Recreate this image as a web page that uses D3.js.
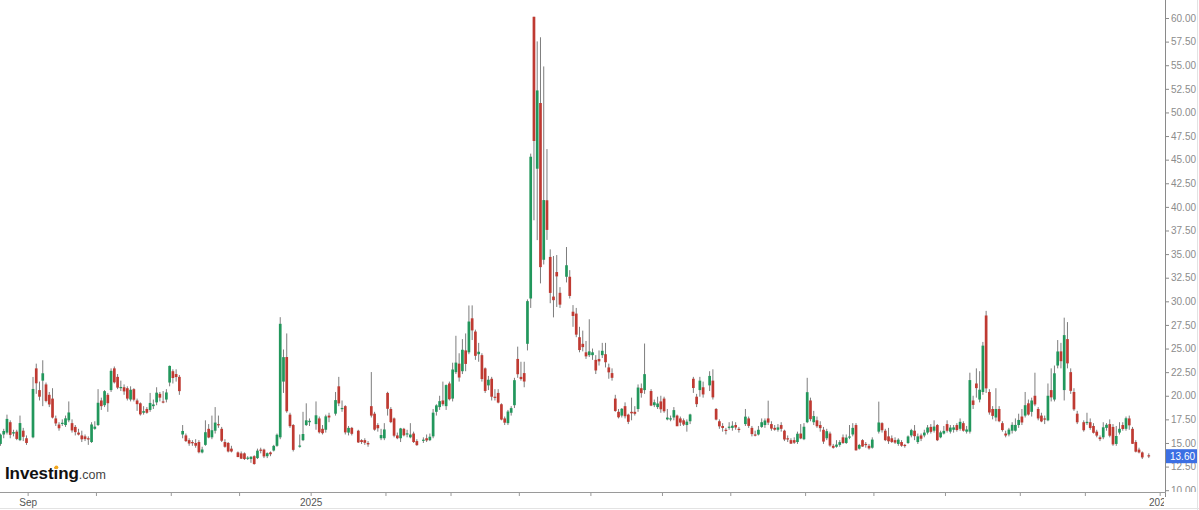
<!DOCTYPE html>
<html><head><meta charset="utf-8">
<script src="https://cdn.jsdelivr.net/npm/d3@7"></script>
<style>html,body{margin:0;padding:0;background:#fff;} svg{display:block;font-family:"Liberation Sans",Arial,sans-serif;}</style>
</head><body><svg id="chart" width="1199" height="510"></svg>
<script>
// Daily candles, one named array per month: [day, open, high, low, close]
const aug2024 = [[20,14.9,16.0,14.7,15.88],[21,15.9,16.5,15.5,16.27],[22,16.1,18.0,15.9,17.55],[23,17.2,17.4,15.5,15.86],[26,16.0,16.4,15.7,16.15],[27,16.2,16.4,15.3,15.43],[28,15.3,17.9,15.2,17.11],[29,16.3,16.6,15.2,15.65],[30,15.5,15.8,14.8,15.00]];
const sep2024 = [[3,15.6,21.99,15.5,20.72],[4,22.9,23.4,20.2,21.32],[5,20.6,21.5,19.5,19.90],[6,21.6,23.76,18.9,22.38],[9,21.2,21.4,19.3,19.45],[10,20.1,20.4,18.8,19.08],[11,19.7,20.8,17.6,17.69],[12,17.6,17.9,16.8,17.07],[13,16.95,17.2,16.3,16.56],[16,17.1,17.5,16.8,17.14],[17,16.9,17.9,16.7,17.61],[18,17.4,19.4,17.2,18.23],[19,17.1,17.5,16.1,16.33],[20,16.7,16.9,15.8,16.15],[23,16.1,16.5,15.8,15.89],[24,15.8,16.3,15.1,15.39],[25,15.7,15.9,15.2,15.41],[26,15.5,15.7,14.8,15.37],[27,15.1,17.2,15.0,16.96],[30,16.5,17.3,16.4,16.73]];
const oct2024 = [[1,16.9,20.7,16.8,19.26],[2,19.5,19.8,18.5,18.90],[3,19.0,20.6,18.8,20.49],[4,20.1,20.3,18.3,19.21],[7,20.6,22.9,20.4,22.64],[8,22.9,23.1,21.3,21.42],[9,22.0,22.3,20.7,20.86],[10,20.8,21.6,20.5,20.93],[11,20.9,21.2,20.1,20.46],[14,20.8,21.0,19.5,19.70],[15,19.6,21.0,19.4,20.64],[16,20.7,20.8,19.4,19.58],[17,19.5,19.7,18.4,19.11],[18,19.2,19.3,17.9,18.03],[21,18.2,18.9,18.0,18.37],[22,18.6,18.8,18.1,18.20],[23,18.5,20.3,18.3,19.24],[24,18.9,19.6,18.6,19.08],[25,19.3,20.9,19.0,20.33],[28,20.2,20.4,19.4,19.80],[29,19.4,20.5,19.2,19.34],[30,19.6,20.7,19.3,20.35],[31,21.4,23.2,21.0,23.16]];
const nov2024 = [[1,22.6,22.8,21.3,21.88],[4,22.3,22.8,21.5,21.98],[5,22.0,22.2,20.1,20.49],[6,15.9,16.9,15.5,16.27],[7,15.8,16.0,15.1,15.20],[8,15.3,15.5,14.7,14.94],[11,15.1,15.3,14.7,14.97],[12,15.0,15.4,14.5,14.71],[13,15.1,15.3,13.9,14.02],[14,14.0,14.6,13.9,14.31],[15,14.8,17.4,14.7,16.14],[18,16.5,17.0,15.5,15.58],[19,15.6,17.9,15.4,16.35],[20,16.3,18.8,16.0,17.16],[21,17.0,17.9,16.6,16.87],[22,16.5,16.7,15.1,15.24],[25,15.1,15.4,14.5,14.60],[26,15.0,15.1,14.0,14.10],[27,14.4,14.7,14.0,14.10],[29,14.0,14.1,13.5,13.51]];
const dec2024 = [[2,13.9,14.1,13.3,13.34],[3,13.9,14.0,13.2,13.30],[4,13.4,13.6,13.2,13.45],[5,13.3,13.6,12.9,13.54],[6,13.6,13.7,12.7,12.77],[9,13.4,14.4,13.3,14.19],[10,14.3,14.5,13.9,14.18],[11,14.3,14.4,13.4,13.58],[12,13.6,14.0,13.4,13.92],[13,14.0,14.1,13.6,13.81],[16,14.2,14.8,14.1,14.69],[17,14.7,16.0,14.6,15.87],[18,15.6,28.32,15.4,27.62],[19,21.5,24.9,20.3,24.09],[20,24.1,26.6,18.2,18.36],[23,18.0,18.2,16.6,16.78],[24,16.9,17.0,14.1,14.27],[26,14.6,15.9,14.5,14.73],[27,15.3,18.3,15.2,15.95],[30,16.9,19.2,16.8,17.40],[31,17.2,17.6,16.8,17.35]];
const jan2025 = [[2,17.0,19.4,16.4,17.93],[3,17.6,17.8,16.0,16.13],[6,16.5,16.9,15.9,16.04],[7,16.4,18.0,16.1,17.82],[8,17.9,18.2,17.2,17.70],[10,18.1,20.4,17.9,19.54],[13,21.0,22.0,18.9,19.19],[14,18.7,19.5,18.3,18.71],[15,18.9,19.0,15.9,16.12],[16,16.1,16.8,15.8,16.60],[17,16.6,16.7,15.8,15.97],[21,16.3,16.4,15.0,15.06],[22,15.3,15.4,14.9,15.10],[23,15.3,15.5,14.8,15.02],[24,15.0,15.2,14.6,14.85],[27,18.9,22.51,17.7,17.90],[28,18.1,18.3,16.3,16.41],[29,16.9,17.1,16.2,16.56],[30,15.5,16.5,15.3,15.84],[31,15.5,17.1,15.3,16.43]];
const feb2025 = [[3,20.3,20.42,17.9,18.62],[4,18.6,18.8,17.1,17.21],[5,17.6,17.7,15.6,15.77],[6,15.8,16.1,15.4,15.50],[7,15.5,16.6,15.1,16.54],[10,16.5,16.6,15.7,15.81],[11,16.0,16.4,15.6,16.02],[12,15.6,17.1,15.5,15.89],[13,16.0,16.2,15.0,15.10],[14,15.2,15.4,14.7,14.77],[18,15.3,15.6,15.0,15.35],[19,15.5,15.9,15.1,15.27],[20,15.3,16.0,15.2,15.66],[21,15.7,18.6,15.5,18.21],[24,18.3,19.1,17.9,18.98],[25,18.8,20.0,18.5,19.43],[26,19.5,21.5,18.9,19.10],[27,18.9,21.2,18.5,21.13],[28,21.3,21.5,19.5,19.63]];
const mar2025 = [[3,19.7,23.5,19.4,22.78],[4,22.5,26.35,22.3,23.51],[5,23.4,24.5,21.5,21.93],[6,22.6,26.0,22.3,24.87],[7,24.8,26.6,22.6,23.37],[10,24.6,29.56,24.4,27.86],[11,28.2,29.57,25.9,26.92],[12,26.8,27.0,23.8,24.23],[13,24.4,25.6,23.6,24.66],[14,24.3,24.5,21.5,21.77],[17,22.9,23.0,20.3,20.51],[18,21.1,22.1,20.6,21.70],[19,21.8,22.0,19.5,19.90],[20,19.9,20.7,19.5,19.80],[21,20.3,20.7,19.2,19.28],[24,19.1,19.2,17.4,17.48],[25,17.6,17.8,16.9,17.15],[26,17.1,18.5,16.9,18.33],[27,18.2,18.9,17.9,18.69],[28,19.0,21.9,18.7,21.65],[31,23.9,25.2,21.9,22.28]];
const apr2025 = [[1,22.0,23.6,21.6,21.77],[2,22.4,23.6,20.9,21.51],[3,25.5,30.2,24.8,30.02],[4,30.3,45.64,29.3,45.31],[7,60.13,60.13,38.58,46.98],[8,44.04,57.52,36.48,52.33],[9,51.0,57.96,31.9,33.62],[10,34.4,54.87,33.9,40.72],[11,40.7,46.12,36.5,37.56],[14,34.7,35.5,29.8,30.89],[15,30.5,34.8,28.3,30.12],[16,33.1,34.9,29.4,32.64],[17,30.9,31.5,29.3,29.65],[21,32.6,35.75,32.0,33.82],[22,32.6,33.3,30.3,30.57],[23,28.9,29.6,27.3,28.45],[24,28.7,29.3,26.2,26.47],[25,26.2,27.3,24.6,24.84],[28,25.5,26.9,24.7,25.15],[29,24.6,25.8,23.9,24.17],[30,24.3,28.1,24.1,24.70]];
const may2025 = [[1,24.3,25.0,23.8,24.60],[2,23.8,24.3,22.3,22.68],[5,23.9,24.8,23.2,23.64],[6,24.3,25.6,24.0,24.76],[7,24.4,25.6,23.0,23.55],[8,23.0,23.4,21.8,22.48],[9,22.4,22.9,21.6,21.90],[12,19.7,20.1,18.3,18.39],[13,18.3,18.6,17.6,17.72],[14,17.9,18.7,17.7,18.62],[15,18.9,19.3,17.6,17.83],[16,18.0,18.1,17.0,17.24],[19,18.3,19.8,17.4,18.14],[20,18.3,18.9,17.9,18.09],[21,18.6,21.2,18.3,20.87],[22,20.8,21.3,19.8,20.28],[23,20.6,25.53,20.2,22.29],[27,20.5,20.7,18.9,18.96],[28,19.0,19.6,18.8,19.31],[29,18.8,19.9,18.6,19.18],[30,19.4,20.0,18.2,18.57]];
const jun2025 = [[2,19.7,19.9,18.2,18.36],[3,17.5,18.6,17.4,17.69],[4,17.6,17.9,17.3,17.61],[5,17.7,18.8,17.4,18.48],[6,17.9,18.0,16.8,16.77],[9,17.6,17.8,16.8,17.16],[10,17.4,17.6,16.8,16.95],[11,16.9,17.5,16.2,17.26],[12,17.3,18.1,17.0,18.02],[13,21.8,22.0,20.3,20.82],[16,19.9,20.2,18.8,19.11],[17,20.6,22.0,19.9,21.60],[18,20.9,21.5,19.8,20.14],[20,21.1,22.6,20.5,22.1],[23,21.6,22.8,19.6,19.83],[24,18.6,18.7,17.4,17.48],[25,17.3,17.5,16.5,16.76],[26,16.8,17.1,16.2,16.59],[27,16.4,16.6,15.9,16.32],[30,16.6,17.2,16.4,16.73]];
const jul2025 = [[1,16.6,17.3,16.3,16.83],[2,16.9,17.2,16.4,16.64],[3,16.5,16.7,16.1,16.38],[7,17.0,18.6,16.8,17.79],[8,17.6,17.8,16.6,16.81],[9,16.6,16.8,15.7,15.94],[10,15.9,16.3,15.7,15.78],[11,15.9,16.8,15.8,16.40],[14,16.7,17.6,16.6,17.20],[15,16.9,17.6,16.6,17.38],[16,17.6,19.48,16.9,17.16],[17,17.0,17.3,16.3,16.52],[18,16.6,16.9,16.3,16.41],[21,16.4,17.0,16.2,16.65],[22,16.9,17.2,16.2,16.50],[23,16.3,16.4,15.2,15.37],[24,15.5,15.8,15.1,15.39],[25,15.3,15.5,14.9,14.93],[28,15.3,15.6,14.9,15.03],[29,15.1,16.2,14.9,15.98],[30,16.0,17.0,15.4,15.48],[31,15.4,17.1,15.3,16.72]];
const aug2025 = [[1,17.2,21.9,17.1,20.38],[4,19.5,19.8,17.3,17.52],[5,17.2,18.4,16.9,17.85],[6,17.4,17.8,16.6,16.77],[7,16.9,17.3,16.2,16.57],[8,16.4,16.7,14.9,15.15],[11,15.5,16.5,15.3,16.25],[12,16.0,16.2,14.6,14.73],[13,14.7,14.9,14.4,14.49],[14,14.6,15.3,14.5,14.83],[15,14.8,15.3,14.6,15.09],[18,15.6,15.9,14.9,15.00],[19,15.0,15.9,14.9,15.57],[20,15.6,16.9,15.4,15.69],[21,15.9,17.1,15.7,16.60],[22,16.9,17.1,14.2,14.22],[25,14.4,14.9,14.3,14.79],[26,15.3,15.4,14.6,14.62],[27,14.9,15.1,14.5,14.85],[28,14.7,14.9,14.3,14.43],[29,14.5,15.6,14.4,15.36]];
const sep2025 = [[2,16.2,19.38,16.0,17.17],[3,17.1,17.2,16.1,16.35],[4,16.3,16.5,15.2,15.30],[5,15.7,16.6,14.9,15.18],[8,15.5,15.8,15.0,15.11],[9,15.3,15.6,14.9,15.04],[10,14.9,15.5,14.7,15.35],[11,15.1,15.3,14.6,14.71],[12,14.8,14.9,14.5,14.76],[15,15.0,15.8,14.9,15.69],[16,15.8,16.5,15.6,16.36],[17,16.3,16.9,15.3,15.72],[18,15.1,16.0,14.9,15.70],[19,15.8,16.0,15.2,15.45],[22,15.8,16.4,15.6,16.10],[23,16.1,16.9,15.9,16.64],[24,16.7,17.0,16.0,16.18],[25,16.3,17.4,16.1,16.74],[26,16.9,17.0,15.2,15.29],[29,15.6,16.3,15.5,16.12],[30,16.0,16.8,15.9,16.28]];
const oct2025 = [[1,17.0,17.4,16.1,16.29],[2,16.2,16.9,16.0,16.63],[3,16.4,16.9,16.1,16.65],[6,16.9,17.1,16.2,16.37],[7,16.5,17.6,16.3,17.24],[8,17.1,17.3,16.2,16.30],[9,16.2,16.8,16.0,16.43],[10,16.2,22.44,16.0,21.66],[13,19.5,20.0,18.6,19.03],[14,21.3,22.9,19.8,20.81],[15,19.6,22.6,19.3,20.64],[16,20.4,25.7,20.1,25.31],[17,28.5,28.99,20.3,20.78],[20,20.4,20.7,18.0,18.23],[21,18.6,18.9,17.5,17.87],[22,17.7,20.8,17.3,18.60],[23,18.6,18.9,17.2,17.30],[24,17.1,17.3,16.2,16.37],[27,16.0,16.3,15.6,15.79],[28,15.9,16.6,15.7,16.42],[29,16.3,17.2,16.0,16.92],[30,16.3,17.6,16.2,16.91],[31,16.9,18.1,16.6,17.44]];
const nov2025 = [[3,17.8,18.6,16.9,17.17],[4,17.9,20.4,17.7,19.00],[5,19.2,19.6,17.9,18.01],[6,18.3,19.8,17.8,19.50],[7,20.0,22.44,18.9,19.08],[10,18.6,18.8,17.4,17.60],[11,17.9,18.2,17.2,17.28],[12,17.6,17.9,17.0,17.51],[13,17.4,21.3,17.3,20.00],[14,20.6,22.9,19.4,19.83],[17,19.6,23.2,19.4,22.38],[18,23.2,25.9,22.9,24.69],[19,24.7,25.6,22.9,23.66],[20,20.6,28.27,19.5,26.42],[21,26.0,27.8,22.9,23.43],[24,22.5,22.9,20.2,20.52],[25,20.4,20.8,18.4,18.56],[26,18.1,18.4,17.0,17.19],[28,17.2,17.4,16.2,16.35]];
const dec2025 = [[1,17.1,18.2,16.9,17.24],[2,17.2,17.6,16.4,16.59],[3,16.8,17.1,16.0,16.08],[4,16.2,16.4,15.6,15.78],[5,15.6,15.8,15.2,15.41],[8,15.6,17.2,15.4,16.66],[9,16.6,17.1,16.3,16.93],[10,17.0,17.5,15.6,15.77],[11,16.7,17.0,14.7,14.85],[12,14.9,16.8,14.7,15.74],[15,16.1,17.2,15.9,16.50],[16,16.9,17.2,16.3,16.48],[17,16.5,17.8,16.3,17.62],[18,17.6,17.9,16.4,16.87],[19,16.5,16.7,14.9,14.91],[22,15.1,15.3,14.0,14.08],[23,14.3,14.5,13.9,14.00],[24,14.0,14.1,13.3,13.47],[26,13.7,13.9,13.4,13.60]];

const monthBlocks = [
  [2024,7,aug2024],[2024,8,sep2024],[2024,9,oct2024],[2024,10,nov2024],[2024,11,dec2024],
  [2025,0,jan2025],[2025,1,feb2025],[2025,2,mar2025],[2025,3,apr2025],[2025,4,may2025],
  [2025,5,jun2025],[2025,6,jul2025],[2025,7,aug2025],[2025,8,sep2025],[2025,9,oct2025],
  [2025,10,nov2025],[2025,11,dec2025]
];
const yTickValues = [10,12.5,15,17.5,20,22.5,25,27.5,30,32.5,35,37.5,40,42.5,45,47.5,50,52.5,55,57.5,60];
const monthTicks = [[2024,8],[2024,9],[2024,10],[2024,11],[2025,0],[2025,1],[2025,2],[2025,3],[2025,4],[2025,5],[2025,6],[2025,7],[2025,8],[2025,9],[2025,10],[2025,11],[2026,0]];
const monthTickLabels = ["Sep","","","","2025","","","","","","","","","","","","2026"];
const lastPrice = 13.60;

// weekday slot index counted from Mon 2 Sep 2024
const base = Date.UTC(2024,8,2);
function slotOf(y,m,d){
  const days = Math.round((Date.UTC(y,m,d)-base)/864e5);
  const w = Math.floor(days/7);
  const r = days - w*7;
  return w*5 + Math.min(r,5);
}

const candles = [];
monthBlocks.forEach(([yy,mm,rows]) => rows.forEach(r => candles.push({s:slotOf(yy,mm,r[0]), o:r[1], h:r[2], l:r[3], c:r[4]})));

const W = 1199, H = 510, plotRight = 1165, plotBottom = 492;
const x = d3.scaleLinear().domain([0,348]).range([29.75, 29.75 + 3.253*348]);
const y = d3.scaleLinear().domain([10,60]).range([490.2,18]);

const svg = d3.select("#chart");
const defs = svg.append("defs");
defs.append("clipPath").attr("id","plotClip").append("rect").attr("x",0).attr("y",0).attr("width",plotRight).attr("height",plotBottom);
// clip rects below are in the local (translated) coordinates of their axis groups
defs.append("clipPath").attr("id","yClip").append("rect").attr("x",-2).attr("y",0).attr("width",40).attr("height",plotBottom);
defs.append("clipPath").attr("id","xClip").append("rect").attr("x",0).attr("y",-1).attr("width",plotRight-1).attr("height",20);

svg.append("rect").attr("width",W).attr("height",H).attr("fill","#fff");

const UP = "#22975c", DOWN = "#bf3a32", WICK = "#7d7d7d";
const g = svg.append("g").attr("clip-path","url(#plotClip)");
g.selectAll("line.wick").data(candles).join("line").attr("class","wick")
  .attr("x1",d=>x(d.s)).attr("x2",d=>x(d.s))
  .attr("y1",d=>y(d.h)).attr("y2",d=>y(d.l))
  .attr("stroke",WICK).attr("stroke-width",1);
g.selectAll("rect.body").data(candles).join("rect").attr("class","body")
  .attr("x",d=>x(d.s)-1.35).attr("width",2.7)
  .attr("y",d=>y(Math.max(d.o,d.c)))
  .attr("height",d=>Math.max(1.2, Math.abs(y(d.o)-y(d.c))))
  .attr("fill",d=>d.c>=d.o?UP:DOWN);

// right value axis
const yAxis = d3.axisRight(y).tickValues(yTickValues).tickFormat(d3.format(".2f")).tickSize(4).tickSizeOuter(0).tickPadding(2);
const ya = svg.append("g").attr("transform",`translate(${plotRight},0)`).attr("clip-path","url(#yClip)").call(yAxis);
ya.select(".domain").remove();
ya.selectAll(".tick line").attr("stroke","#8a8a8a");
ya.selectAll(".tick text").attr("fill","#8c8c8c").attr("font-size",10).attr("font-family","'Liberation Sans',Arial,sans-serif");
svg.append("line").attr("x1",plotRight+0.5).attr("x2",plotRight+0.5).attr("y1",0).attr("y2",497).attr("stroke","#8a8a8a");

// bottom time axis
const tickSlots = monthTicks.map(([yy,mm]) => slotOf(yy,mm,1) - 0.65);
const xAxis = d3.axisBottom(x).tickValues(tickSlots).tickFormat((d,i)=>monthTickLabels[i]).tickSize(4).tickSizeOuter(0).tickPadding(3);
const xa = svg.append("g").attr("transform",`translate(0,${plotBottom})`).attr("clip-path","url(#xClip)").call(xAxis);
xa.select(".domain").remove();
xa.selectAll(".tick line").attr("stroke","#9a9a9a");
xa.selectAll(".tick text").attr("fill","#555").attr("font-size",10).attr("font-family","'Liberation Sans',Arial,sans-serif");
svg.append("line").attr("x1",0).attr("x2",plotRight+1).attr("y1",plotBottom+0.5).attr("y2",plotBottom+0.5).attr("stroke","#9a9a9a");

// outer light frame
svg.append("line").attr("x1",0).attr("x2",W).attr("y1",508.5).attr("y2",508.5).attr("stroke","#e3e3e3");
svg.append("line").attr("x1",1197.5).attr("x2",1197.5).attr("y1",0).attr("y2",H).attr("stroke","#e3e3e3");

// last price marker
const ly = y(lastPrice);
svg.append("rect").attr("x",plotRight+1).attr("y",ly-7).attr("width",31).attr("height",14).attr("fill","#3c6fe3");
svg.append("text").attr("x",plotRight+5).attr("y",ly+3.6).attr("fill","#fff").attr("font-size",10)
  .attr("font-family","'Liberation Sans',Arial,sans-serif").text(d3.format(".2f")(lastPrice));

// logo
const logo = svg.append("text").attr("x",5).attr("y",479).attr("font-family","'Liberation Sans',Arial,sans-serif");
logo.append("tspan").attr("font-size",17).attr("font-weight","bold").attr("fill","#111").attr("letter-spacing","-0.1").text("Investing");
logo.append("tspan").attr("font-size",12.5).attr("fill","#444").text(".com");
svg.append("circle").attr("cx",56.4).attr("cy",467.3).attr("r",1.9).attr("fill","#f3a71c");
</script></body></html>
